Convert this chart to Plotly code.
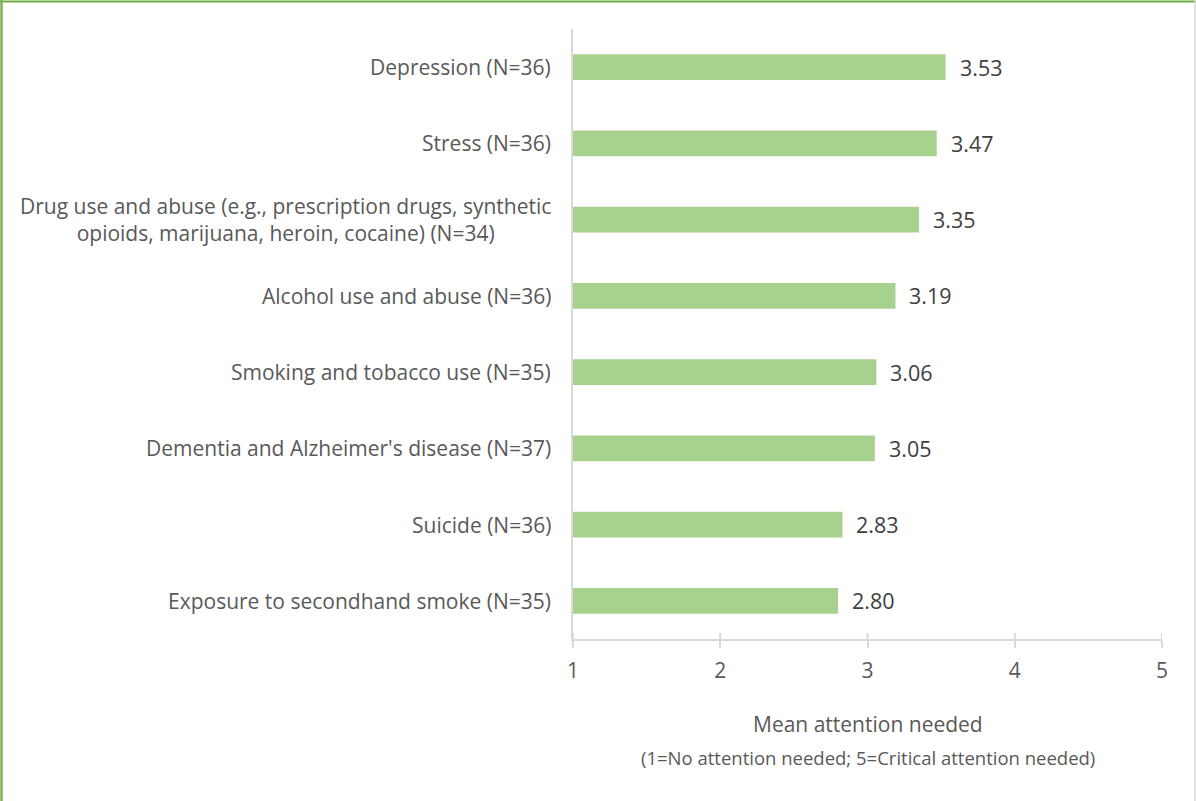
import plotly.graph_objects as go

# Survey results: mean attention needed per behavioral health issue
categories = [
    "Depression (N=36)",
    "Stress (N=36)",
    "Drug use and abuse (e.g., prescription drugs, synthetic<br>opioids, marijuana, heroin, cocaine) (N=34)",
    "Alcohol use and abuse (N=36)",
    "Smoking and tobacco use (N=35)",
    "Dementia and Alzheimer's disease (N=37)",
    "Suicide (N=36)",
    "Exposure to secondhand smoke (N=35)",
]
means = [3.53, 3.47, 3.35, 3.19, 3.06, 3.05, 2.83, 2.80]
tick_values = [1, 2, 3, 4, 5]

W, H = 1196, 801
M = dict(l=573, r=34, t=29, b=162)
FONT = "Open Sans"
TEXT_GRAY = "#595959"
LABEL_SIZE = 21


def px_x(px):
    return (px - M["l"]) / (W - M["l"] - M["r"])


def px_y(py):
    return 1 - (py - M["t"]) / (H - M["t"] - M["b"])


fig = go.Figure(
    go.Bar(
        x=means,
        y=categories,
        orientation="h",
        width=0.34,
        marker=dict(color="#A9D18E", line=dict(width=0)),
        hoverinfo="skip",
    )
)

# value labels beside each bar
for cat, v in zip(categories, means):
    fig.add_annotation(
        x=v, y=cat, xref="x", yref="y", text=f"{v:.2f}",
        showarrow=False, xanchor="left", xshift=12,
        font=dict(family=FONT, size=21.5, color="#404040"),
    )

# category labels (multi-line ones centred within their block)
for cat in categories:
    fig.add_annotation(
        x=0, y=cat, xref="paper", yref="y", text=cat,
        showarrow=False, xanchor="right", align="center", xshift=-20,
        font=dict(family=FONT, size=LABEL_SIZE, color=TEXT_GRAY),
    )

# axis title and explanatory note
fig.add_annotation(
    x=0.5, y=px_y(724), xref="paper", yref="paper", yanchor="middle",
    text="Mean attention needed", showarrow=False,
    font=dict(family=FONT, size=21, color=TEXT_GRAY),
)
fig.add_annotation(
    x=0.5, y=px_y(757), xref="paper", yref="paper", yanchor="middle",
    text="(1=No attention needed; 5=Critical attention needed)", showarrow=False,
    font=dict(family=FONT, size=18.5, color=TEXT_GRAY),
)

# chart frame: green left/top edges, light gray right edge
fig.add_shape(type="line", xref="paper", yref="paper",
              x0=px_x(1.5), x1=px_x(1.5), y0=px_y(0), y1=px_y(H),
              line=dict(color="#7DB356", width=2.5))
fig.add_shape(type="line", xref="paper", yref="paper",
              x0=px_x(0), x1=px_x(W), y0=px_y(1.5), y1=px_y(1.5),
              line=dict(color="#70AD47", width=2))
fig.add_shape(type="line", xref="paper", yref="paper",
              x0=px_x(1195), x1=px_x(1195), y0=px_y(0), y1=px_y(H),
              line=dict(color="#D9D9D9", width=1.5))

fig.update_layout(
    width=W, height=H,
    margin=M,
    paper_bgcolor="white", plot_bgcolor="white",
    showlegend=False,
    font=dict(family=FONT, color=TEXT_GRAY),
)
fig.update_xaxes(
    range=[1, 5], tickvals=tick_values, ticktext=[str(t) for t in tick_values],
    showgrid=False, zeroline=False,
    showline=True, linecolor="#D9D9D9", linewidth=2,
    ticks="outside", ticklen=7, tickcolor="#D9D9D9", tickwidth=2,
    ticklabelstandoff=5,
    tickfont=dict(family=FONT, size=21, color=TEXT_GRAY),
    fixedrange=True,
)
# crossing tick marks: the part above the axis line
for t in tick_values:
    fig.add_shape(type="line", xref="x", yref="paper",
                  x0=t, x1=t, y0=0, y1=px_y(633),
                  line=dict(color="#D9D9D9", width=2))
fig.update_yaxes(
    categoryorder="array", categoryarray=categories[::-1],
    showticklabels=False, showgrid=False, zeroline=False,
    showline=True, linecolor="#D9D9D9", linewidth=2,
    fixedrange=True,
)

fig.write_html("out.html")
